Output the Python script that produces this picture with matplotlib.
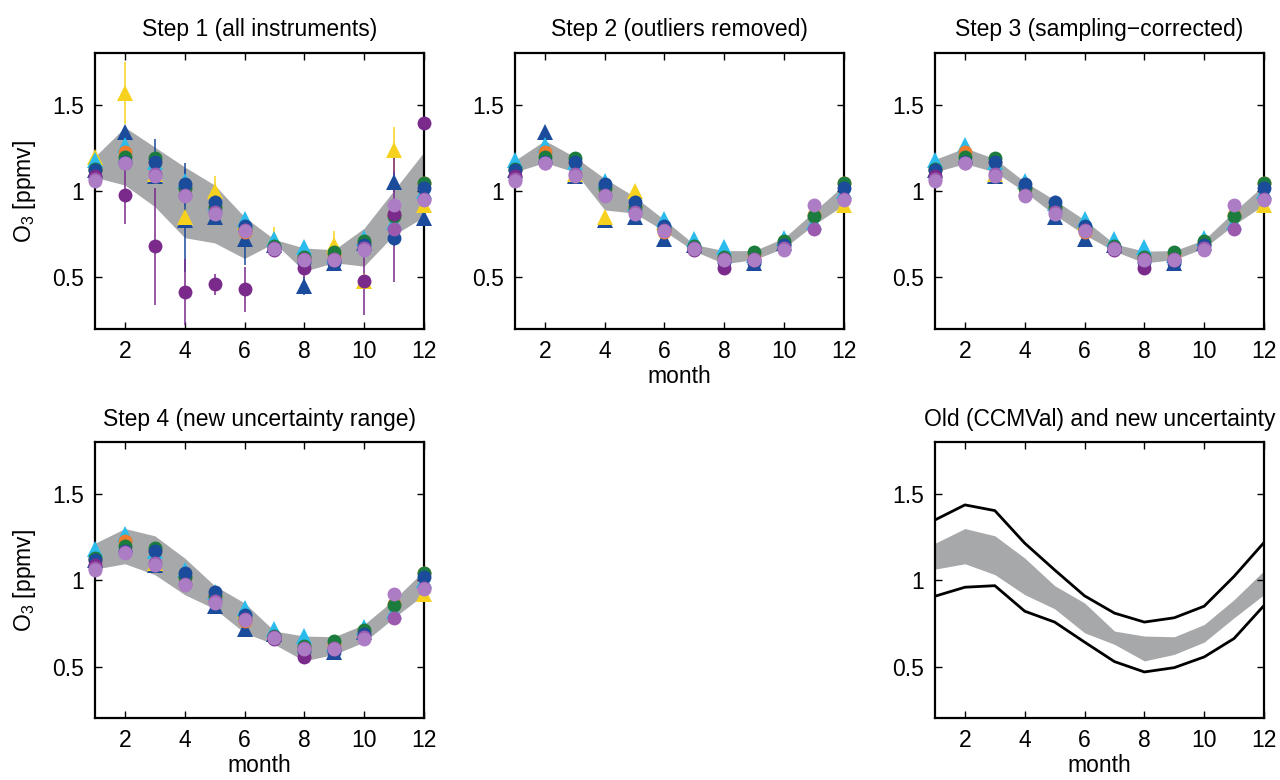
"""Seasonal O3 climatology: instrument values and uncertainty ranges, step by step."""

import numpy as np
import matplotlib
matplotlib.use("Agg")
import matplotlib.pyplot as plt

plt.rcParams["font.family"] = ["Liberation Sans", "DejaVu Sans"]
plt.rcParams["mathtext.default"] = "regular"

nan = np.nan
months = np.arange(1, 13)

# step 1 instrument values [ppmv], months 1..12
gold_tri = [1.20, 1.57, 1.10, 0.85, 1.00, 0.82, 0.72, nan, 0.69, 0.48, 1.24, 0.92]
cyan_tri = [1.18, 1.27, 1.17, 1.06, 0.93, 0.84, 0.72, 0.675, 0.63, 0.73, 0.82, 1.00]
navy_tri = [1.12, 1.34, 1.09, 0.83, 0.85, 0.72, 0.69, 0.45, 0.585, 0.70, 1.055, 0.845]
orange_dot = [1.12, 1.225, 1.17, 1.02, 0.91, 0.765, 0.67, 0.61, 0.63, 0.70, 0.86, 1.045]
green_dot = [1.13, 1.20, 1.19, 1.02, 0.91, 0.78, 0.68, 0.62, 0.65, 0.71, 0.855, 1.045]
navy_dot = [1.12, 1.17, 1.17, 1.04, 0.935, 0.80, 0.67, 0.59, 0.585, 0.69, 0.73, 1.02]
purple_dot = [1.09, 0.98, 0.68, 0.415, 0.46, 0.43, 0.66, 0.555, 0.60, 0.48, 0.865, 1.395]
orchid_dot = [1.07, 1.165, 1.10, 0.98, 0.88, 0.775, 0.67, 0.605, 0.608, 0.67, 0.78, 0.955]
lilac_dot = [1.06, 1.16, 1.09, 0.97, 0.87, 0.77, 0.665, 0.60, 0.60, 0.66, 0.92, 0.95]

# step 1 error bars
gold_err = [0.03, 0.18, 0.03, 0.03, 0.09, 0.03, 0.07, 0.0, 0.08, 0.03, 0.13, 0.03]
cyan_err = [0.02, 0.03, 0.02, 0.02, 0.02, 0.03, 0.02, 0.02, 0.02, 0.03, 0.03, 0.02]
navy_tri_err = [0.02, 0.03, 0.03, 0.30, 0.03, 0.15, 0.03, 0.05, 0.04, 0.03, 0.06, 0.02]
navy_dot_err = [0.02, 0.03, 0.13, 0.12, 0.03, 0.05, 0.02, 0.03, 0.03, 0.02, 0.05, 0.02]
purple_err = [0.02, 0.17, 0.34, 0.19, 0.06, 0.13, 0.02, 0.06, 0.03, 0.20, 0.39, 0.02]
small_err = [0.02] * 12

# points dropped in step 2 (outliers) and step 3 (sampling correction)
outliers = [("gold", 1), ("gold", 2), ("gold", 7), ("gold", 9), ("gold", 10), ("gold", 11),
            ("navy_tri", 8), ("navy_tri", 11), ("navy_tri", 12),
            ("purple", 2), ("purple", 3), ("purple", 4), ("purple", 5), ("purple", 6),
            ("purple", 10), ("purple", 11), ("purple", 12), ("navy_dot", 11)]
sampling = [("navy_tri", 2), ("gold", 4), ("navy_tri", 4), ("gold", 5)]

# uncertainty bands
step1_hi = [1.20, 1.37, 1.255, 1.14, 1.035, 0.85, 0.72, 0.67, 0.66, 0.785, 1.005, 1.226]
step1_lo = [1.08, 1.035, 0.91, 0.73, 0.70, 0.61, 0.70, 0.536, 0.585, 0.565, 0.747, 0.85]
step2_hi = [1.178, 1.293, 1.198, 1.073, 0.968, 0.833, 0.69, 0.655, 0.655, 0.728, 0.882, 1.035]
step2_lo = [1.111, 1.165, 1.111, 0.891, 0.872, 0.767, 0.652, 0.579, 0.603, 0.67, 0.805, 0.92]
step3_hi = [1.184, 1.25, 1.188, 1.054, 0.948, 0.833, 0.694, 0.652, 0.655, 0.718, 0.882, 1.035]
step3_lo = [1.111, 1.159, 1.111, 0.996, 0.862, 0.747, 0.652, 0.584, 0.603, 0.67, 0.805, 0.92]
new_hi = [1.215, 1.30, 1.258, 1.129, 0.969, 0.869, 0.706, 0.677, 0.673, 0.744, 0.888, 1.056]
new_lo = [1.065, 1.096, 1.033, 0.917, 0.835, 0.696, 0.629, 0.533, 0.571, 0.642, 0.783, 0.917]
old_hi = [1.35, 1.437, 1.404, 1.215, 1.06, 0.91, 0.81, 0.758, 0.783, 0.85, 1.023, 1.219]
old_lo = [0.908, 0.96, 0.969, 0.821, 0.758, 0.642, 0.529, 0.469, 0.494, 0.556, 0.663, 0.854]

band_color = "#a7a8aa"
fs = 16.5

# drawing order: triangles under circles
series = [
    ("navy_tri", navy_tri, navy_tri_err, "^", "#1b4b9b"),
    ("gold", gold_tri, gold_err, "^", "#f6d21e"),
    ("cyan", cyan_tri, cyan_err, "^", "#2bbbec"),
    ("orange", orange_dot, small_err, "o", "#ef7d2d"),
    ("green", green_dot, small_err, "o", "#1c7c3d"),
    ("navy_dot", navy_dot, navy_dot_err, "o", "#1b4b9b"),
    ("purple", purple_dot, purple_err, "o", "#7a2a8b"),
    ("orchid", orchid_dot, small_err, "o", "#9c5aaf"),
    ("lilac", lilac_dot, small_err, "o", "#ac7cc4"),
]


def values_for(name, vals, dropped):
    out = np.array(vals, dtype=float)
    for n, m in dropped:
        if n == name:
            out[m - 1] = nan
    return out


def style_axes(ax, title, xlabel=False, ylabel=False):
    ax.set_xlim(1, 12)
    ax.set_ylim(0.2, 1.8)
    ax.set_xticks([2, 4, 6, 8, 10, 12])
    ax.set_yticks([0.5, 1.0, 1.5], ["0.5", "1", "1.5"])
    ax.tick_params(direction="in", top=True, right=True, length=5, width=1,
                   labelsize=fs)
    ax.tick_params(axis="x", pad=8)
    ax.tick_params(axis="y", pad=8)
    for sp in ax.spines.values():
        sp.set_linewidth(1.6)
        sp.set_zorder(2.5)
    ax.set_title(title, fontsize=fs, pad=12)
    if xlabel:
        ax.set_xlabel("month", fontsize=fs, labelpad=1)
    if ylabel:
        ax.set_ylabel("O$_3$ [ppmv]", fontsize=fs, labelpad=10)


def draw_points(ax, dropped, with_errors):
    for name, vals, err, mk, col in series:
        y = values_for(name, vals, dropped)
        if with_errors:
            ax.errorbar(months, y, yerr=err, fmt="none", ecolor=col, elinewidth=1.3,
                        alpha=0.85, zorder=2)
        ms = 11 if mk == "^" else 10
        ax.plot(months, y, linestyle="none", marker=mk, ms=ms, color=col,
                markeredgewidth=0, zorder=3, clip_on=False)


fig = plt.figure(figsize=(12.8, 7.8), dpi=100)
w, h = 0.257, 0.354
cols = [0.0742, 0.4023, 0.7305]
rows = [0.578, 0.079]

ax1 = fig.add_axes([cols[0], rows[0], w, h])
ax1.fill_between(months, step1_lo, step1_hi, color=band_color, lw=0, zorder=1)
draw_points(ax1, [], True)
style_axes(ax1, "Step 1 (all instruments)", ylabel=True)

ax2 = fig.add_axes([cols[1], rows[0], w, h])
ax2.fill_between(months, step2_lo, step2_hi, color=band_color, lw=0, zorder=1)
draw_points(ax2, outliers, False)
style_axes(ax2, "Step 2 (outliers removed)", xlabel=True)

ax3 = fig.add_axes([cols[2], rows[0], w, h])
ax3.fill_between(months, step3_lo, step3_hi, color=band_color, lw=0, zorder=1)
draw_points(ax3, outliers + sampling, False)
style_axes(ax3, "Step 3 (sampling\u2212corrected)")

ax4 = fig.add_axes([cols[0], rows[1], w, h])
ax4.fill_between(months, new_lo, new_hi, color=band_color, lw=0, zorder=1)
draw_points(ax4, outliers + sampling, False)
style_axes(ax4, "Step 4 (new uncertainty range)", xlabel=True, ylabel=True)

ax6 = fig.add_axes([cols[2], rows[1], w, h])
ax6.fill_between(months, new_lo, new_hi, color=band_color, lw=0, zorder=1)
ax6.plot(months, old_hi, color="black", lw=2, zorder=2)
ax6.plot(months, old_lo, color="black", lw=2, zorder=2)
style_axes(ax6, "Old (CCMVal) and new uncertainty", xlabel=True)

fig.savefig("out.png", dpi=100)
